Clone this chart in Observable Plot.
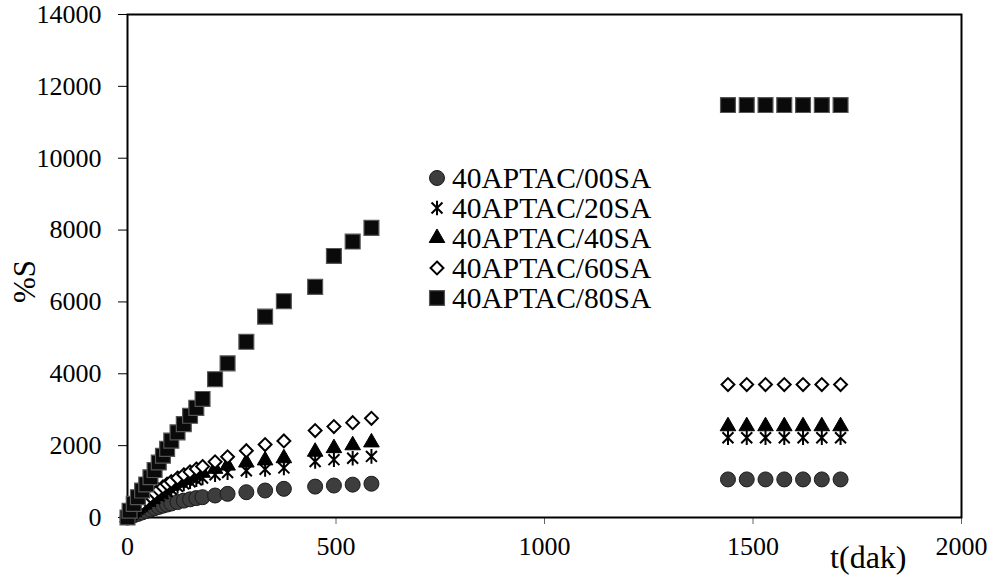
<!DOCTYPE html>
<html>
<head>
<meta charset="utf-8">
<script src="https://cdn.jsdelivr.net/npm/d3@7"></script>
<script src="https://cdn.jsdelivr.net/npm/@observablehq/plot@0.6"></script>
<style>
  body { margin: 0; background: #fff; }
  #wrap { position: relative; width: 1000px; height: 587px; font-family: "Liberation Serif", "Times New Roman", serif; }
  #wrap svg, #wrap svg text, #wrap svg g { font-family: "Liberation Serif", "Times New Roman", serif !important; }
  #legend { position: absolute; left: 427px; top: 163px; }
  .item { display: flex; align-items: center; height: 30px; font-size: 29.5px; line-height: 30px; color: #000; white-space: nowrap; }
  .item svg { width: 20px; height: 20px; margin-right: 5px; overflow: visible; }
</style>
</head>
<body>
<div id="wrap"><div id="legend"></div></div>
<script>
// time (dak)
const times = [0, 5, 15, 25, 35, 45, 55, 65, 75, 85, 95, 105, 120, 135, 150, 165, 180, 210, 240, 285, 330, 375, 450, 495, 540, 585, 1440, 1485, 1530, 1575, 1620, 1665, 1710];
// %S values per series
const s00 = [0, 20, 60, 100, 140, 180, 220, 260, 295, 330, 360, 390, 430, 470, 505, 540, 565, 612, 658, 704, 751, 798, 860, 890, 915, 940, 1060, 1060, 1060, 1060, 1060, 1060, 1060];
const s20 = [0, 55, 145, 230, 310, 385, 460, 530, 600, 665, 725, 785, 865, 935, 995, 1050, 1100, 1190, 1250, 1300, 1340, 1380, 1560, 1610, 1650, 1700, 2220, 2220, 2220, 2220, 2220, 2220, 2220];
const s40 = [0, 60, 160, 255, 345, 430, 515, 595, 670, 745, 815, 880, 970, 1050, 1120, 1185, 1245, 1355, 1445, 1530, 1590, 1650, 1830, 1930, 2010, 2090, 2540, 2540, 2540, 2540, 2540, 2540, 2540];
const s60 = [0, 70, 180, 290, 390, 490, 590, 680, 770, 850, 930, 1000, 1100, 1190, 1270, 1350, 1420, 1550, 1690, 1860, 2030, 2130, 2420, 2530, 2640, 2760, 3700, 3700, 3700, 3700, 3700, 3700, 3700];
const s80 = [0, 190, 380, 565, 750, 920, 1120, 1320, 1530, 1720, 1910, 2140, 2370, 2600, 2830, 3050, 3300, 3850, 4290, 4890, 5590, 6020, 6420, 7280, 7680, 8060, 11480, 11480, 11480, 11480, 11480, 11480, 11480];
const seriesNames = ["40APTAC/00SA", "40APTAC/20SA", "40APTAC/40SA", "40APTAC/60SA", "40APTAC/80SA"];
const xTicks = [0, 500, 1000, 1500, 2000];
const yTicks = [0, 2000, 4000, 6000, 8000, 10000, 12000, 14000];

const seriesValues = [s00, s20, s40, s60, s80];
const rows = seriesValues.map((vals, i) => times.map((t, j) => ({t, S: vals[j], series: seriesNames[i]})));

// Excel-like star marker: vertical line + X
const starSymbol = {
  draw(ctx, size) {
    const r = Math.sqrt(size / Math.PI);
    const d = r * 0.75;
    ctx.moveTo(0, -r); ctx.lineTo(0, r);
    ctx.moveTo(-d, -d); ctx.lineTo(d, d);
    ctx.moveTo(-d, d); ctx.lineTo(d, -d);
  }
};

const styles = [
  {symbol: "circle", r: 7.5, fill: "#3d3d3d", stroke: "#1a1a1a", strokeWidth: 1},
  {symbol: starSymbol, r: 7.3, fill: "none", stroke: "#000", strokeWidth: 2},
  {symbol: "triangle", r: 5.8, fill: "#000", stroke: "#000", strokeWidth: 1},
  {symbol: "diamond2", r: 5.8, fill: "#fff", stroke: "#000", strokeWidth: 2},
  {symbol: "square", r: 8.4, fill: "#0a0a0a", stroke: "#555", strokeWidth: 1.2}
];

const dotMarks = rows.map((data, i) => Plot.dot(data, {x: "t", y: "S", ...styles[i]}));

const chart = Plot.plot({
  width: 1000,
  height: 587,
  marginLeft: 127,
  marginRight: 39,
  marginTop: 14,
  marginBottom: 70,
  style: {fontFamily: "Liberation Serif, serif", fontSize: "26px", background: "#fff", color: "#000", overflow: "visible"},
  x: {domain: [0, 2000]},
  y: {domain: [0, 14000]},
  marks: [
    Plot.axisY({ticks: yTicks, tickSize: 9, tickPadding: 17, label: null, fontSize: 26, tickFormat: d => String(d)}),
    Plot.axisX({ticks: xTicks, tickSize: 7, tickPadding: 12, label: null, fontSize: 26, tickFormat: d => String(d), stroke: "#666"}),
    Plot.frame({stroke: "#000", strokeWidth: 2}),
    ...dotMarks,
    Plot.text(["t(dak)"], {text: d => d, frameAnchor: "bottom-right", dx: -55, dy: 50, textAnchor: "end", fontSize: 32}),
    Plot.text(["%S"], {text: d => d, frameAnchor: "left", rotate: -90, dx: -102, dy: 37, fontSize: 31})
  ]
});
const wrap = document.getElementById("wrap");
wrap.insertBefore(chart, wrap.firstChild);

// legend
const legend = document.getElementById("legend");
seriesNames.forEach((name, i) => {
  const st = styles[i];
  const item = document.createElement("div");
  item.className = "item";
  const svg = d3.create("svg").attr("width", 20).attr("height", 20);
  const sym = typeof st.symbol === "string"
    ? {circle: d3.symbolCircle, triangle: d3.symbolTriangle, diamond2: d3.symbolDiamond2, square: d3.symbolSquare}[st.symbol]
    : st.symbol;
  svg.append("path")
    .attr("transform", "translate(10,10)")
    .attr("d", d3.symbol(sym, st.r * st.r * Math.PI)())
    .attr("fill", st.fill).attr("stroke", st.stroke).attr("stroke-width", st.strokeWidth);
  item.appendChild(svg.node());
  const span = document.createElement("span");
  span.textContent = name;
  item.appendChild(span);
  legend.appendChild(item);
});
</script>
</body>
</html>
